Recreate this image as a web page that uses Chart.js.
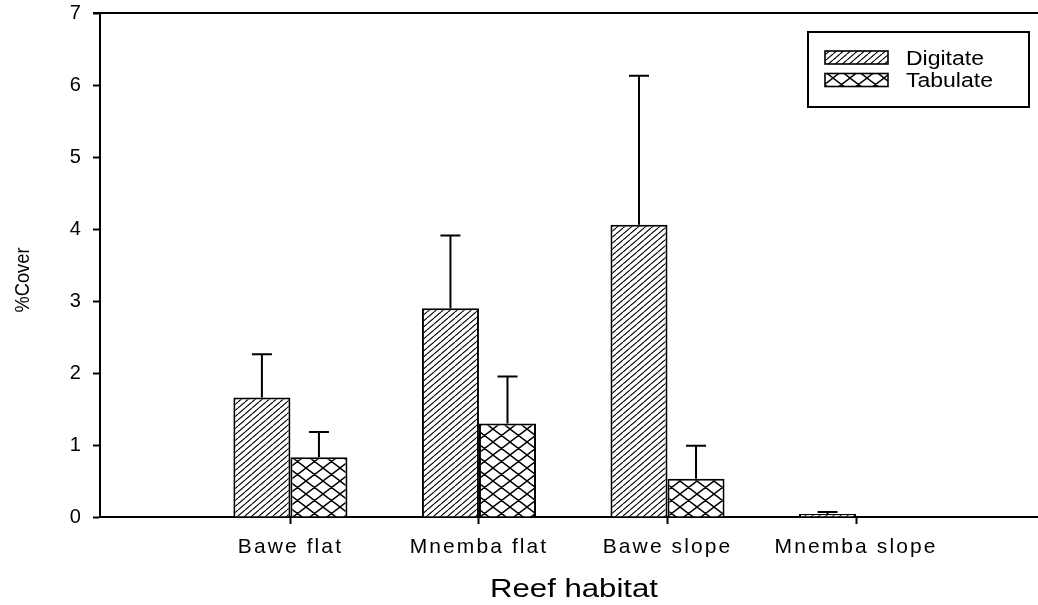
<!DOCTYPE html>
<html>
<head>
<meta charset="utf-8">
<title>Coral growth forms by reef habitat</title>
<script src="https://cdn.jsdelivr.net/npm/chart.js@4/dist/chart.umd.min.js"></script>
<style>
  html, body { margin: 0; padding: 0; background: #fff; }
  canvas { display: block; }
</style>
</head>
<body>
<canvas id="c" width="1038" height="605"></canvas>
<script>
// Mean % cover of digitate and tabulate corals, with standard errors
const habitats = ['Bawe flat', 'Mnemba flat', 'Bawe slope', 'Mnemba slope'];
const seriesNames = ['Digitate', 'Tabulate'];
const digitateCover = [1.66, 2.90, 4.06, 0.04];
const digitateSE = [0.60, 1.01, 2.07, 0.03];
const tabulateCover = [0.83, 1.30, 0.53, 0];
const tabulateSE = [0.35, 0.65, 0.46, 0];
const yTickValues = [0, 1, 2, 3, 4, 5, 6, 7];
const xTitle = 'Reef habitat';
const yTitle = '%Cover';

const FONT = '"Liberation Sans", Arial, Helvetica, sans-serif';
const canvas = document.getElementById('c');
const ctx = canvas.getContext('2d');

// Fill patterns: single diagonal hatch and a diamond cross-hatch
function diagonalHatch() {
  const t = document.createElement('canvas');
  t.width = 7; t.height = 6;
  const g = t.getContext('2d');
  g.fillStyle = '#fff';
  g.fillRect(0, 0, t.width, t.height);
  g.strokeStyle = '#000';
  g.lineWidth = 1.1;
  g.beginPath();
  for (const dx of [-7, 0, 7]) { g.moveTo(dx, 6); g.lineTo(dx + 7, 0); }
  g.stroke();
  return ctx.createPattern(t, 'repeat');
}
function crossHatch() {
  const t = document.createElement('canvas');
  t.width = 17; t.height = 13;
  const g = t.getContext('2d');
  g.fillStyle = '#fff';
  g.fillRect(0, 0, t.width, t.height);
  g.strokeStyle = '#000';
  g.lineWidth = 1.4;
  g.beginPath();
  for (const dx of [-17, 0, 17]) {
    g.moveTo(dx, 0); g.lineTo(dx + 17, 13);
    g.moveTo(dx, 13); g.lineTo(dx + 17, 0);
  }
  g.stroke();
  return ctx.createPattern(t, 'repeat');
}

const fills = [diagonalHatch(), crossHatch()];

// Upper error bars with caps
const errorBars = {
  id: 'errorBars',
  afterDatasetsDraw(chart) {
    const c = chart.ctx;
    const yScale = chart.scales.y;
    c.save();
    c.strokeStyle = '#000';
    c.lineWidth = 2;
    chart.data.datasets.forEach((ds, di) => {
      const meta = chart.getDatasetMeta(di);
      meta.data.forEach((bar, i) => {
        const se = ds.se[i];
        if (!se) return;
        const top = yScale.getPixelForValue(ds.data[i].y + se);
        c.beginPath();
        c.moveTo(bar.x, bar.y);
        c.lineTo(bar.x, top);
        c.moveTo(bar.x - 10, top);
        c.lineTo(bar.x + 10, top);
        c.stroke();
      });
    });
    c.restore();
  }
};

// Tick labels are drawn slightly spaced out
const textSpacing = {
  id: 'textSpacing',
  beforeDraw(chart) { chart.ctx.letterSpacing = '2.1px'; }
};

// Axis titles, top frame line and boxed legend
const decorations = {
  id: 'decorations',
  afterDraw(chart) {
    const c = chart.ctx;
    const area = chart.chartArea;
    const yScale = chart.scales.y;
    c.save();
    c.letterSpacing = '0px';
    c.fillStyle = '#000';
    c.strokeStyle = '#000';

    // top frame line at the axis maximum
    const yTop = yScale.getPixelForValue(yScale.max);
    c.lineWidth = 2;
    c.beginPath();
    c.moveTo(area.left - 7, yTop);
    c.lineTo(chart.width, yTop);
    c.stroke();

    // x axis title
    c.save();
    c.font = '25px ' + FONT;
    c.textAlign = 'center';
    c.textBaseline = 'alphabetic';
    c.translate(574, 597);
    c.scale(1.245, 1);
    c.fillText(xTitle, 0, 0);
    c.restore();

    // y axis title
    c.save();
    c.font = '21px ' + FONT;
    c.textAlign = 'center';
    c.textBaseline = 'alphabetic';
    c.translate(29, 280);
    c.rotate(-Math.PI / 2);
    c.scale(0.87, 1);
    c.fillText(yTitle, 0, 0);
    c.restore();

    // legend
    c.lineWidth = 2;
    c.strokeRect(808, 32, 221, 75);
    c.font = '20px ' + FONT;
    c.textAlign = 'left';
    c.textBaseline = 'alphabetic';
    chart.data.datasets.forEach((ds, i) => {
      const sy = 51 + i * 22.5;
      c.fillStyle = ds.backgroundColor;
      c.fillRect(825, sy, 63, 13);
      c.lineWidth = 1.6;
      c.strokeRect(825, sy, 63, 13);
      c.fillStyle = '#000';
      c.save();
      c.translate(906, sy + 13.5);
      c.scale(1.15, 1);
      c.fillText(ds.label, 0, 0);
      c.restore();
    });
    c.restore();
  }
};

const tickFont = (size) => ({ family: FONT, size: size });

new Chart(ctx, {
  type: 'bar',
  data: {
    datasets: [
      {
        label: seriesNames[0],
        data: habitats.map((h, i) => ({ x: i + 1, y: digitateCover[i] })),
        se: digitateSE,
        backgroundColor: fills[0],
        borderColor: '#000',
        borderWidth: 2
      },
      {
        label: seriesNames[1],
        data: habitats.map((h, i) => ({ x: i + 1, y: tabulateCover[i] })),
        se: tabulateSE,
        backgroundColor: fills[1],
        borderColor: '#000',
        borderWidth: 2
      }
    ]
  },
  options: {
    responsive: false,
    animation: false,
    devicePixelRatio: 1,
    layout: { padding: { top: 13, right: 0, left: 0, bottom: 0 } },
    datasets: { bar: { categoryPercentage: 0.605, barPercentage: 1 } },
    plugins: { legend: { display: false }, tooltip: { enabled: false } },
    scales: {
      x: {
        type: 'linear',
        min: -0.01,
        max: 4.965,
        offset: false,
        afterBuildTicks: (s) => { s.ticks = habitats.map((h, i) => ({ value: i + 1 })); },
        afterFit: (s) => { s.height = 88; s.paddingLeft = 0; s.paddingRight = 0; },
        ticks: {
          callback: (v) => habitats[Math.round(v) - 1] || '',
          font: tickFont(21),
          color: '#000',
          padding: 11,
          maxRotation: 0,
          autoSkip: false
        },
        grid: {
          display: true, drawOnChartArea: false, drawTicks: true,
          tickLength: 7, tickWidth: 2, tickColor: '#000', offset: false
        },
        border: { display: true, color: '#000', width: 2 }
      },
      y: {
        min: 0,
        max: 7,
        afterBuildTicks: (s) => { s.ticks = yTickValues.map((v) => ({ value: v })); },
        afterFit: (s) => { s.width = 100; s.paddingTop = 0; s.paddingBottom = 0; },
        ticks: {
          font: tickFont(20),
          color: '#000',
          padding: 10
        },
        grid: {
          display: true, drawOnChartArea: false, drawTicks: true,
          tickLength: 7, tickWidth: 2, tickColor: '#000'
        },
        border: { display: true, color: '#000', width: 2 }
      }
    }
  },
  plugins: [textSpacing, errorBars, decorations]
});
</script>
</body>
</html>
